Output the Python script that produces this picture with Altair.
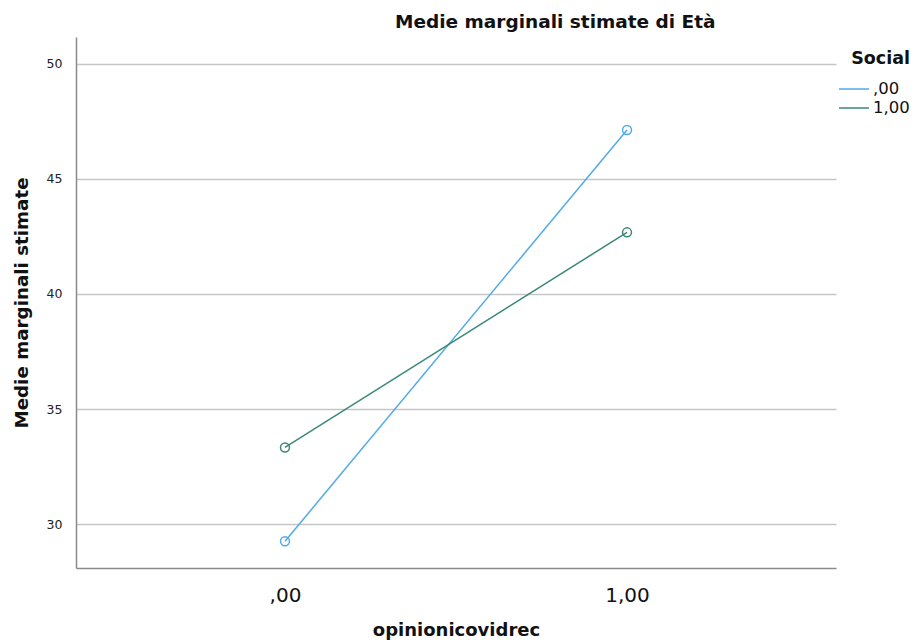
import altair as alt
import pandas as pd

categories = [",00", "1,00"]
social_levels = [",00", "1,00"]
values_social_00 = [29.25, 47.13]
values_social_100 = [33.33, 42.68]

rows = []
for c, v in zip(categories, values_social_00):
    rows.append({"opinionicovidrec": c, "Social": ",00", "value": v})
for c, v in zip(categories, values_social_100):
    rows.append({"opinionicovidrec": c, "Social": "1,00", "value": v})
df = pd.DataFrame(rows)

FONT = "DejaVu Sans"
colors = ["#50AAE8", "#3B8878"]

x = alt.X("opinionicovidrec:N", sort=categories,
          scale=alt.Scale(type="point", padding=0.611),
          axis=alt.Axis(title="opinionicovidrec", labelAngle=0, labelFontSize=20,
                        labelPadding=17, titleFontSize=18, titleFontWeight="bold",
                        titlePadding=16, ticks=False, grid=False,
                        domainColor="#8a8a8a", domainWidth=1.5,
                        labelColor="#111", titleColor="#111", labelFont=FONT, titleFont=FONT))
y = alt.Y("value:Q",
          scale=alt.Scale(domain=[28.09, 51.17], nice=False, zero=False),
          axis=alt.Axis(title="Medie marginali stimate", values=[30, 35, 40, 45, 50],
                        labelFontSize=12.5, labelPadding=14, ticks=False,
                        titleFontSize=18.3, titleFontWeight="bold", titlePadding=15,
                        gridColor="#c6c6c6", gridWidth=1.5,
                        domainColor="#8a8a8a", domainWidth=1.5,
                        labelColor="#222", titleColor="#111", labelFont=FONT, titleFont=FONT))
color = alt.Color("Social:N", sort=social_levels,
                  scale=alt.Scale(domain=social_levels, range=colors),
                  legend=alt.Legend(title="Social", orient="none", legendX=762, legendY=13,
                                    titleFontSize=17.5, titleFontWeight="bold", titleAnchor="end",
                                    titleFont=FONT, labelFont=FONT, labelFontSize=16.5,
                                    symbolType="stroke", symbolSize=900, symbolStrokeWidth=1.5,
                                    labelOffset=3, rowPadding=0, titlePadding=12, clipHeight=19,
                                    labelColor="#111", titleColor="#111"))

lines = alt.Chart(df).mark_line(strokeWidth=1.5).encode(x=x, y=y, color=color)
points = alt.Chart(df).mark_point(size=80, strokeWidth=1.5, filled=False, opacity=1).encode(
    x=x, y=y, color=alt.Color("Social:N", sort=social_levels,
                              scale=alt.Scale(domain=social_levels, range=colors), legend=None))

chart = (lines + points).properties(
    width=760, height=531,
    title=alt.TitleParams("Medie marginali stimate di Età", anchor="start", frame="group", dx=319,
                          fontSize=18.5, fontWeight="bold", font=FONT, color="#111", offset=6),
    autosize=alt.AutoSizeParams(type="none"),
    padding={"left": 76, "top": 37, "right": 81, "bottom": 75},
).configure(background="white").configure_view(stroke=None)

chart.save("out.html", embed_options={"renderer": "svg", "actions": False})
